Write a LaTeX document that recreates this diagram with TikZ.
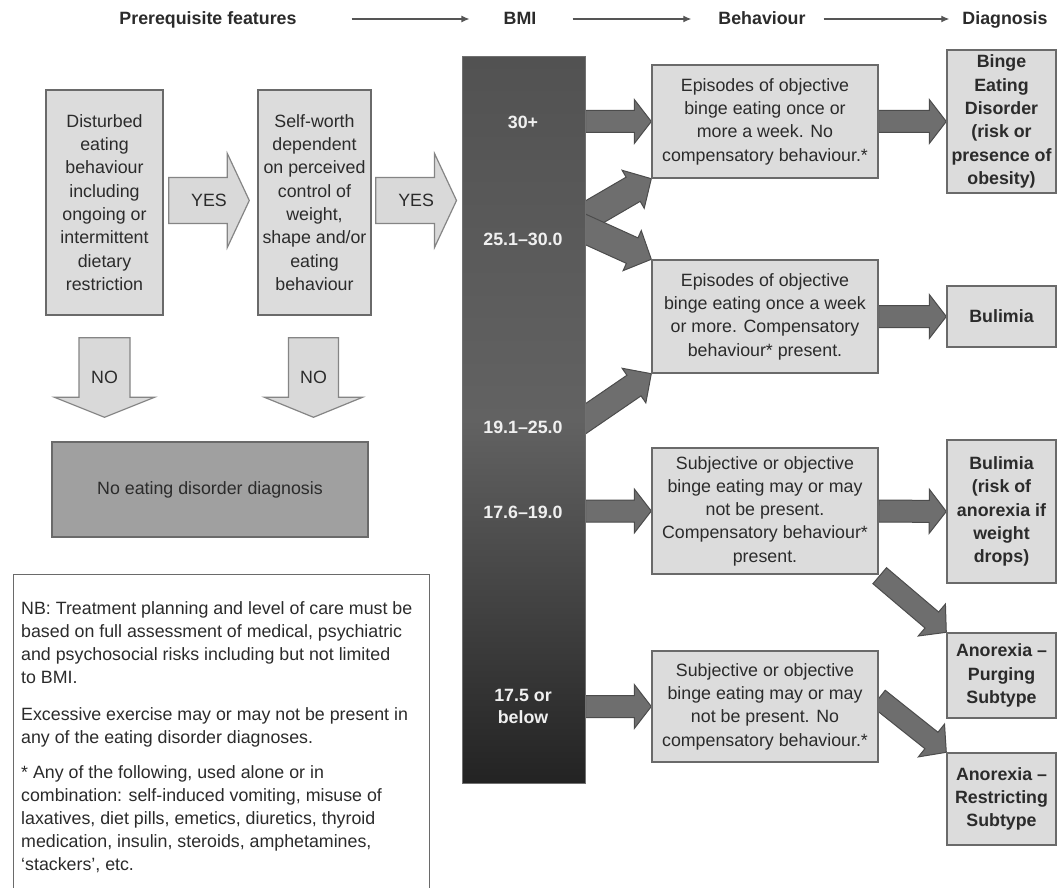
\documentclass[tikz,border=0pt]{standalone}
\usepackage{fontspec}
\setmainfont{Liberation Sans}
\usetikzlibrary{calc,arrows.meta}

\definecolor{ink}{HTML}{2B2B2B}
\definecolor{boxfill}{HTML}{DCDCDC}
\definecolor{boxline}{HTML}{6A6A6A}
\definecolor{darkfill}{HTML}{6E6E6E}
\definecolor{darkline}{HTML}{4C4C4C}
\definecolor{palefill}{HTML}{D9D9D9}
\definecolor{paleline}{HTML}{858585}
\definecolor{nofill}{HTML}{A0A0A0}
\definecolor{bartop}{HTML}{525252}
\definecolor{barmid}{HTML}{626262}
\definecolor{barbot}{HTML}{232323}

\pgfdeclarelayer{bg}
\pgfdeclarelayer{arrowlayer}
\pgfsetlayers{bg,arrowlayer,main}

% block arrow: #1 style, #2 start, #3 tip, #4 shaft half-width, #5 head half-width, #6 head length
\newcommand\blockarrow[6]{%
  \coordinate (ba-h) at ($(#3)!#6!(#2)$);
  \draw[#1] ($(#2)!#4!90:(#3)$) -- ($(ba-h)!#4!90:(#3)$) -- ($(ba-h)!#5!90:(#3)$)
    -- (#3) -- ($(ba-h)!#5!-90:(#3)$) -- ($(ba-h)!#4!-90:(#3)$) -- ($(#2)!#4!-90:(#3)$) -- cycle;
}

\begin{document}
\begin{tikzpicture}[x=1pt,y=-1pt,
  txt/.style={font=\fontsize{17.8}{23.3}\selectfont, text=ink},
  hdr/.style={font=\fontsize{17.8}{23.3}\selectfont\bfseries, text=ink, inner sep=0pt, anchor=base},
  hdrarrow/.style={draw=ink!80, line width=1.2pt, -{Latex[length=8pt,width=7pt]}},
  lightbox/.style={txt, draw=boxline, fill=boxfill, line width=1.4pt, align=center, inner sep=0pt},
  diagbox/.style={lightbox, font=\fontsize{17.8}{23.3}\selectfont\bfseries},
  nobox/.style={txt, draw=boxline, fill=nofill, line width=1.4pt, align=center, inner sep=0pt},
  barlbl/.style={font=\fontsize{17.8}{22}\selectfont\bfseries, text=white!94!black, align=center},
  palearrow/.style={draw=paleline, fill=palefill, line width=1.2pt, line join=miter},
  darkarrow/.style={draw=darkline, fill=darkfill, line width=1pt, line join=miter},
  arrowlbl/.style={txt},
  notetext/.style={font=\fontsize{17.8}{23}\selectfont, text=ink, inner sep=0pt, anchor=base west}
]
\clip (0,0) rectangle (1058,888);
\begin{pgfonlayer}{bg}
  \fill[white] (0,0) rectangle (1058,888);
\end{pgfonlayer}

% column headings
\node[hdr] (hPre) at (208,25) {Prerequisite features};
\node[hdr] (hBMI) at (520,25) {BMI};
\node[hdr] (hBeh) at (762,25) {Behaviour};
\node[hdr] (hDia) at (1005,25) {Diagnosis};
\draw[hdrarrow, shorten <=55pt, shorten >=34pt] (hPre.base east) ++(0,-6) coordinate (h1) -- (h1 -| hBMI.west);
\draw[hdrarrow, shorten <=36pt, shorten >=27pt] (hBMI.base east) ++(0,-6) coordinate (h2) -- (h2 -| hBeh.west);
\draw[hdrarrow, shorten <=18pt, shorten >=13pt] (hBeh.base east) ++(0,-6) coordinate (h3) -- (h3 -| hDia.west);

% prerequisite boxes
\node[lightbox, minimum width=117pt, minimum height=225pt] (dist) at (104.5,202.5)
  {Disturbed\\eating\\behaviour\\including\\ongoing or\\intermittent\\dietary\\restriction};
\node[lightbox, minimum width=113pt, minimum height=225pt] (self) at (314.5,202.5)
  {Self-worth\\dependent\\on perceived\\control of\\weight,\\shape and/or\\eating\\behaviour};

% no diagnosis box
\node[nobox, minimum width=316pt, minimum height=95pt] (ned) at (210,489.5)
  {No eating disorder diagnosis};

% BMI column
\node[draw=darkline!80, line width=1pt, top color=bartop, bottom color=barbot, middle color=barmid,
      minimum width=123pt, minimum height=726pt, inner sep=0pt] (bar) at (523.5,420) {};
\node[barlbl] (b30) at (523,122) {30+};
\node[barlbl] (b25) at (523,239) {25.1–30.0};
\node[barlbl] (b19) at (523,427) {19.1–25.0};
\node[barlbl] (b17) at (523,512) {17.6–19.0};
\node[barlbl] (b175) at (523,706) {17.5 or\\below};

% behaviour boxes
\node[lightbox, minimum width=226pt, minimum height=113pt] (behA) at (765,121.5)
  {Episodes of objective\\binge eating once or\\more a week. No\\compensatory behaviour.*};
\node[lightbox, minimum width=226pt, minimum height=113pt] (behB) at (765,316.5)
  {Episodes of objective\\binge eating once a week\\or more. Compensatory\\behaviour* present.};
\node[lightbox, minimum width=226pt, minimum height=126pt] (behC) at (765,511)
  {Subjective or objective\\binge eating may or may\\not be present.\\Compensatory behaviour*\\present.};
\node[lightbox, minimum width=226pt, minimum height=111pt] (behD) at (765,706.5)
  {Subjective or objective\\binge eating may or may\\not be present. No\\compensatory behaviour.*};

% diagnosis boxes
\node[diagbox, minimum width=109pt, minimum height=143pt] (binge) at (1001.5,121.5)
  {Binge\\Eating\\Disorder\\(risk or\\presence of\\obesity)};
\node[diagbox, minimum width=109pt, minimum height=61pt] (bul) at (1001.5,316.5) {Bulimia};
\node[diagbox, minimum width=109pt, minimum height=143pt] (bulr) at (1001.5,511.5)
  {Bulimia\\(risk of\\anorexia if\\weight\\drops)};
\node[diagbox, minimum width=109pt, minimum height=85pt] (purg) at (1001.5,675.5)
  {Anorexia –\\Purging\\Subtype};
\node[diagbox, minimum width=109pt, minimum height=92pt] (restr) at (1001.5,799)
  {Anorexia –\\Restricting\\Subtype};

% note box
\node[draw=boxline, fill=white, line width=1.4pt, minimum width=416pt, minimum height=330pt,
      inner sep=0pt, anchor=north west] (nb) at (13,574) {};
\node[notetext] (nb1) at (21,614) {\parbox[t]{405pt}{\raggedright
  NB: Treatment planning and level of care must be\\
  based on full assessment of medical, psychiatric\\
  and psychosocial risks including but not limited\\
  to BMI.}};
\node[notetext] (nb2) at (21,720) {\parbox[t]{405pt}{\raggedright
  Excessive exercise may or may not be present in\\
  any of the eating disorder diagnoses.}};
\node[notetext] (nb3) at (21,778) {\parbox[t]{405pt}{\raggedright
  * Any of the following, used alone or in\\
  combination: self-induced vomiting, misuse of\\
  laxatives, diet pills, emetics, diuretics, thyroid\\
  medication, insulin, steroids, amphetamines,\\
  ‘stackers’, etc.}};

% connectors
\begin{pgfonlayer}{arrowlayer}
  % YES arrows
  \path (dist.east) ++(5,-2) coordinate (y1s);
  \path (self.west) ++(-8,-2) coordinate (y1t);
  \path (self.east) ++(4,-2) coordinate (y2s);
  \path (bar.west |- y2s) ++(-5,0) coordinate (y2t);
  \blockarrow{palearrow}{y1s}{y1t}{23pt}{47pt}{22pt}
  \blockarrow{palearrow}{y2s}{y2t}{23pt}{47pt}{22pt}
  % NO arrows
  \path (dist.south) ++(0,22) coordinate (n1s);
  \path (ned.north -| dist.south) ++(0,-24) coordinate (n1t);
  \path (self.south) ++(-1,22) coordinate (n2s);
  \path (ned.north -| n2s) ++(0,-24) coordinate (n2t);
  \blockarrow{palearrow}{n1s}{n1t}{25.5pt}{50pt}{20pt}
  \blockarrow{palearrow}{n2s}{n2t}{25pt}{49pt}{20pt}
  % BMI to behaviour (diagonal arrows start inside the column, which covers their ends)
  \coordinate (s30) at (bar.east |- behA.west);
  \path (bar.east) ++(-12,-196) coordinate (s25);
  \path (bar.east) ++(-12,7) coordinate (s19);
  \coordinate (s17) at (bar.east |- behC.west);
  \coordinate (s175) at (bar.east |- behD.west);
  \blockarrow{darkarrow}{s30}{behA.west}{11pt}{22pt}{17pt}
  \blockarrow{darkarrow}{s25}{behA.south west}{14pt}{22pt}{21pt}
  \blockarrow{darkarrow}{s25}{behB.north west}{14pt}{22pt}{21pt}
  \blockarrow{darkarrow}{s19}{behB.south west}{12.5pt}{21pt}{21pt}
  \blockarrow{darkarrow}{s17}{behC.west}{11pt}{22pt}{17pt}
  \blockarrow{darkarrow}{s175}{behD.west}{11pt}{22pt}{17pt}
  % behaviour to diagnosis
  \blockarrow{darkarrow}{behA.east}{binge.west}{11pt}{22pt}{17pt}
  \blockarrow{darkarrow}{behB.east}{bul.west}{11pt}{22pt}{17pt}
  \blockarrow{darkarrow}{behC.east}{bulr.west}{11pt}{22pt}{17pt}
  \path (behC.south east) ++(1,1) coordinate (sc);
  \path (behD.east) ++(0,-8) coordinate (sd);
  \blockarrow{darkarrow}{sc}{purg.north west}{10.5pt}{21pt}{19pt}
  \blockarrow{darkarrow}{sd}{restr.north west}{10.5pt}{21pt}{19pt}
\end{pgfonlayer}

% arrow labels
\node[arrowlbl] (yes1) at ($(y1s)!0.5!(y1t)$) {YES};
\node[arrowlbl] (yes2) at ($(y2s)!0.5!(y2t)$) {YES};
\node[arrowlbl] (no1) at ($(n1s)!0.5!(n1t)$) {NO};
\node[arrowlbl] (no2) at ($(n2s)!0.5!(n2t)$) {NO};
\end{tikzpicture}
\end{document}
